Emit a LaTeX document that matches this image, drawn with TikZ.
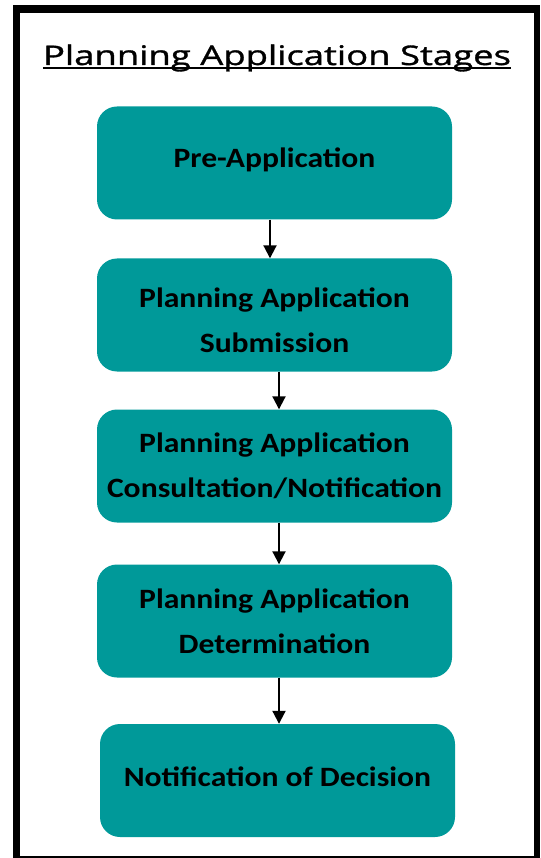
\documentclass[tikz,border=0pt]{standalone}
\usepackage{fontspec}
\setmainfont{Carlito}[FakeStretch=1.13]
\newfontfamily\titlefont{Open Sans}[FakeStretch=1.35,FakeBold=1.2]
\usetikzlibrary{arrows.meta,calc}
\definecolor{stageteal}{RGB}{0,153,153}
\begin{document}
\begin{tikzpicture}[x=1pt,y=-1pt,
  stagebox/.style={draw=none,fill=stageteal,rounded corners=20pt,
    minimum width=355pt,minimum height=113pt,inner sep=0pt},
  stagetext/.style={inner sep=0pt,align=center,
    font=\fontsize{28}{45}\selectfont\bfseries},
  flowarrow/.style={line width=2pt,-{Triangle[width=13pt,length=13pt]}}]
  \useasboundingbox (0,0) rectangle (540,858);
  % outer frame: heavy top and left edges, lighter right and bottom
  \fill[black] (12.5,5.5) rectangle (540,13.5);
  \fill[black] (12.5,5.5) rectangle (20,858);
  \fill[black] (534,5.5) rectangle (540,858);
  \fill[black] (12.5,856) rectangle (540,858);
  % heading
  \node[anchor=base,inner sep=0pt,font=\titlefont\fontsize{27}{30}\selectfont] (title) at (277,65) {Planning Application Stages};
  \draw[line width=1.5pt] ($(title.base west)+(0,3)$) -- ($(title.base east)+(0,3)$);
  % stages
  \node[stagebox] (b1) at (274.5,163) {};
  \node[stagebox] (b2) at (274.5,315) {};
  \node[stagebox] (b3) at (274.5,466) {};
  \node[stagebox] (b4) at (274.5,621) {};
  \node[stagebox] (b5) at (277.5,780.5) {};
  \node[stagetext] (t1) at ($(b1.center)+(0,-3)$) {Pre-Application};
  \node[stagetext] (t2) at ($(b2.center)+(0,5)$) {Planning Application\\Submission};
  \node[stagetext] (t3) at (b3.center) {Planning Application\\Consultation/Notification};
  \node[stagetext] (t4) at (b4.center) {Planning Application\\Determination};
  \node[stagetext] (t5) at ($(b5.center)+(0,-4)$) {Notification of Decision};
  % connectors
  \draw[flowarrow] ([xshift=-4.5pt]b1.south) -- ([xshift=-4.5pt]b2.north);
  \draw[flowarrow] ([xshift=4.5pt]b2.south) -- ([xshift=4.5pt]b3.north);
  \draw[flowarrow] ([xshift=4.5pt]b3.south) -- ([xshift=4.5pt]b4.north);
  \draw[flowarrow] ([xshift=4.5pt]b4.south) -- ([xshift=4.5pt]b4.south |- b5.north);
\end{tikzpicture}
\end{document}
